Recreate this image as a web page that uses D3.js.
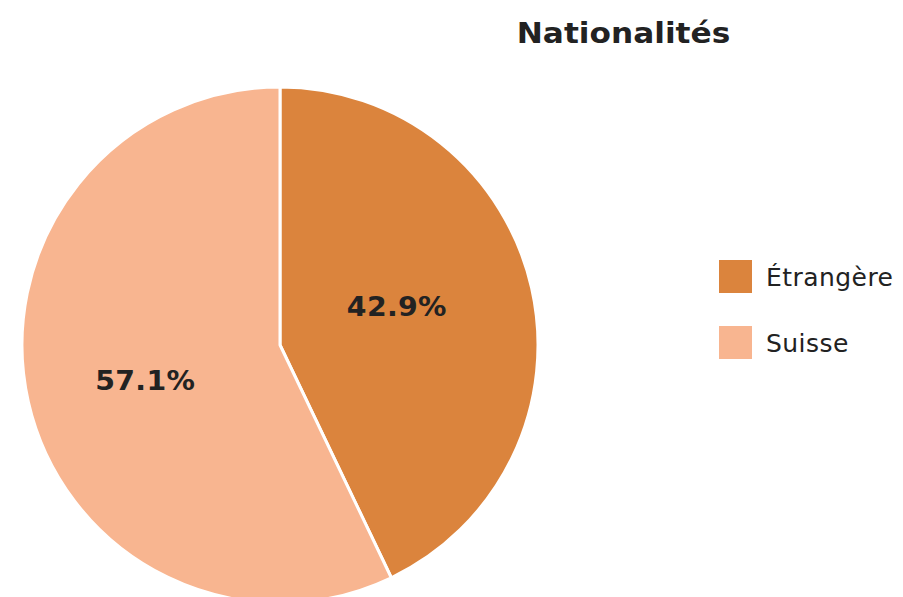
<!DOCTYPE html>
<html>
<head>
<meta charset="utf-8">
<script src="https://cdn.jsdelivr.net/npm/d3@7/dist/d3.min.js"></script>
<style>
  html, body { margin: 0; padding: 0; background: #ffffff; }
  svg { display: block; }
  text { font-family: "DejaVu Sans", Verdana, sans-serif; }
</style>
</head>
<body>
<svg id="chart" width="903" height="597"></svg>
<script>
// Population split by nationality
const categories = ["Étrangère", "Suisse"];
const shares = [42.9, 57.1];
const colors = ["#db843d", "#f8b590"];
const title = "Nationalités";

const svg = d3.select("#chart");

const cx = 280, cy = 345, radius = 258;

const color = d3.scaleOrdinal().domain(categories).range(colors);

const data = categories.map((c, i) => ({ name: c, value: shares[i] }));

const pie = d3.pie().value(d => d.value).sort(null);
const arcs = pie(data);

const arc = d3.arc().innerRadius(0).outerRadius(radius);

// Percentage labels sit inside each slice along its bisector
function labelPos(d) {
  const a = (d.startAngle + d.endAngle) / 2;
  return [Math.sin(a) * radius * 0.5 - 9, -Math.cos(a) * radius * 0.65 - 1.5];
}

const g = svg.append("g").attr("transform", `translate(${cx},${cy})`);

g.selectAll("path.slice")
  .data(arcs)
  .join("path")
  .attr("class", "slice")
  .attr("d", arc)
  .attr("fill", d => color(d.data.name))
  .attr("stroke", "#ffffff")
  .attr("stroke-width", 3)
  .attr("stroke-linejoin", "round");

g.selectAll("text.pct")
  .data(arcs)
  .join("text")
  .attr("class", "pct")
  .attr("transform", d => {
    const [x, y] = labelPos(d);
    return `translate(${x},${y}) scale(1.05,1)`;
  })
  .attr("text-anchor", "middle")
  .attr("dy", "0.36em")
  .attr("font-size", 27)
  .attr("font-weight", "bold")
  .attr("letter-spacing", 0.3)
  .attr("fill", "#222222")
  .text(d => d.data.value.toFixed(1) + "%");

// Title
svg.append("text")
  .attr("transform", "translate(623.5,43) scale(1.115,1)")
  .attr("text-anchor", "middle")
  .attr("font-size", 28)
  .attr("font-weight", "bold")
  .attr("fill", "#222222")
  .text(title);

// Legend
const legend = svg.append("g").attr("transform", "translate(719,260)");
const item = legend.selectAll("g.item")
  .data(categories)
  .join("g")
  .attr("class", "item")
  .attr("transform", (d, i) => `translate(0,${i * 66})`);

item.append("rect")
  .attr("width", 33)
  .attr("height", 33)
  .attr("fill", d => color(d));

item.append("text")
  .attr("x", 47)
  .attr("y", 26)
  .attr("font-size", 25)
  .attr("letter-spacing", 0.45)
  .attr("fill", "#222222")
  .text(d => d);
</script>
</body>
</html>
